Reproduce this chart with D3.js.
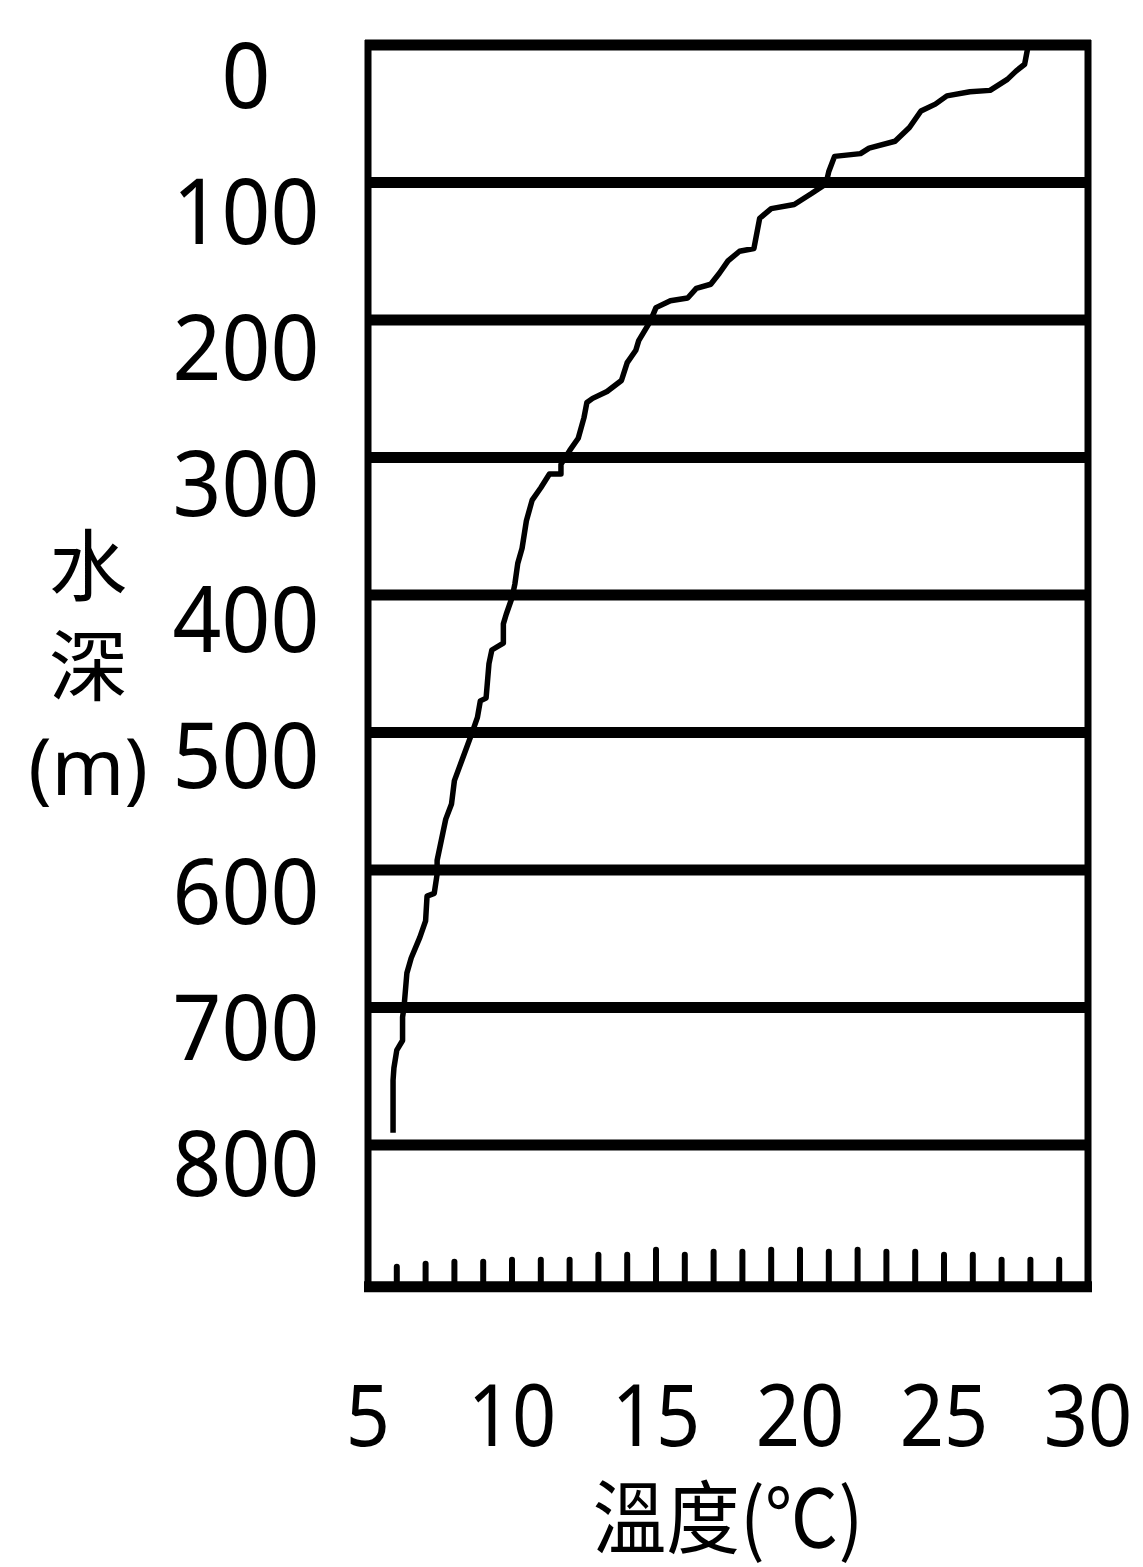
<!DOCTYPE html>
<html>
<head>
<meta charset="utf-8">
<script src="https://cdn.jsdelivr.net/npm/d3@7"></script>
<style>
    body { margin: 0; background: #fff; }
    text { font-family: "Noto Sans", "Noto Sans CJK TC", sans-serif; fill: #000; }
</style>
</head>
<body>
<div id="chart"></div>
<script>
// temperature profile (depth in m, temperature in C)
var depth = [3, 14, 19, 25, 33, 34, 37, 43, 48, 60, 70, 75, 79, 81, 92, 101, 108, 116, 119, 126,
    148, 150, 157, 166, 174, 177, 184, 186, 191, 201, 215, 222, 231, 244, 252, 257, 260, 271, 286, 295,
    305, 312, 312, 322, 331, 346, 366, 377, 392, 402, 414, 421, 435, 440, 450, 475, 477, 489, 501, 518,
    535, 552, 563, 573, 593, 603, 617, 619, 637, 649, 664, 675, 700, 707, 714, 724, 731, 744, 753, 791];
var temp = [27.9, 27.8, 27.5, 27.2, 26.6, 25.9, 25.1, 24.7, 24.2, 23.8, 23.3, 22.4, 22.1, 21.2, 21.0, 20.9, 20.4, 19.8, 19.0, 18.6,
    18.4, 17.9, 17.5, 17.2, 16.9, 16.4, 16.1, 15.5, 15.0, 14.8, 14.4, 14.3, 14.0, 13.8, 13.3, 12.8, 12.6, 12.5, 12.3, 12.0,
    11.7, 11.7, 11.3, 11.0, 10.7, 10.5, 10.35, 10.2, 10.1, 10.0, 9.8, 9.7, 9.7, 9.3, 9.2, 9.1, 8.9, 8.8, 8.6, 8.3,
    8.0, 7.9, 7.7, 7.6, 7.4, 7.4, 7.3, 7.05, 7.0, 6.8, 6.5, 6.35, 6.25, 6.2, 6.2, 6.2, 6.0, 5.9, 5.87, 5.87];

// tick labels
var depthTicks = [0, 100, 200, 300, 400, 500, 600, 700, 800];
var tempTicks = [5, 10, 15, 20, 25, 30];
var minorTicks = [6, 7, 8, 9, 10, 11, 12, 13, 14, 15, 16, 17, 18, 19, 20, 21, 22, 23, 24, 25, 26, 27, 28, 29];
var yTitle = ["水", "深", "(m)"];
var xTitle = "溫度(℃)";

const width = 1143;
const height = 1567;

var svg = d3.select("#chart")
    .append("svg")
    .attr("width", width)
    .attr("height", height);

var x = d3.scaleLinear().domain([5, 30]).range([368, 1088]);
var y = d3.scaleLinear().domain([0, 800]).range([45, 1145]);
// the depth numbers sit a little off their lines, spaced evenly on their own
var yLab = d3.scaleLinear().domain([0, 800]).range([72, 1160]);
var yBottom = y(903);

// little ticks on the bottom edge, hand drawn so they differ in length
var tickLen = {6: 15, 7: 18, 8: 20, 9: 20, 10: 22, 11: 22, 12: 22, 13: 27, 14: 27, 15: 32, 16: 27, 17: 30,
    18: 30, 19: 32, 20: 32, 21: 30, 22: 32, 23: 30, 24: 30, 25: 27, 26: 27, 27: 22, 28: 22, 29: 22};

svg.selectAll("line.minor")
    .data(minorTicks)
    .enter().append("line")
    .attr("class", "minor")
    .attr("x1", d => x(d)).attr("x2", d => x(d))
    .attr("y1", yBottom)
    .attr("y2", d => yBottom - 5 - tickLen[d])
    .attr("stroke", "#000")
    .attr("stroke-width", 6)
    .attr("stroke-linecap", "round");

// horizontal depth lines
svg.selectAll("line.grid")
    .data(depthTicks)
    .enter().append("line")
    .attr("class", "grid")
    .attr("x1", x(5) - 3).attr("x2", x(30) + 3)
    .attr("y1", d => y(d)).attr("y2", d => y(d))
    .attr("stroke", "#000")
    .attr("stroke-width", 11);

// frame
svg.append("line")
    .attr("x1", x(5) - 4).attr("x2", x(30) + 4)
    .attr("y1", yBottom).attr("y2", yBottom)
    .attr("stroke", "#000").attr("stroke-width", 11);
[5, 30].forEach(function(t) {
    svg.append("line")
        .attr("x1", x(t)).attr("x2", x(t))
        .attr("y1", y(0) - 5).attr("y2", yBottom + 5)
        .attr("stroke", "#000").attr("stroke-width", 7);
});

// depth labels
svg.selectAll("text.ylab")
    .data(depthTicks)
    .enter().append("text")
    .attr("class", "ylab")
    .attr("transform", d => "translate(246," + yLab(d) + ") scale(0.93,1)")
    .attr("text-anchor", "middle")
    .attr("dominant-baseline", "central")
    .attr("font-size", 92)
    .text(d => d);

// temperature labels
svg.selectAll("text.xlab")
    .data(tempTicks)
    .enter().append("text")
    .attr("class", "xlab")
    .attr("transform", d => "translate(" + x(d) + ",1446) scale(0.9,1)")
    .attr("text-anchor", "middle")
    .attr("font-size", 86)
    .text(d => d);

// axis titles
svg.selectAll("text.ytitle")
    .data(yTitle)
    .enter().append("text")
    .attr("class", "ytitle")
    .attr("x", 88)
    .attr("y", (d, i) => 595 + i * 100)
    .attr("text-anchor", "middle")
    .attr("font-size", 78)
    .text(d => d);

svg.append("text")
    .attr("transform", "translate(728,1547) scale(0.92,1)")
    .attr("text-anchor", "middle")
    .attr("font-size", 80)
    .style("font-family", "'Noto Sans CJK TC', sans-serif")
    .text(xTitle);

// the profile line
var line = d3.line()
    .x(d => x(d[1]))
    .y(d => y(d[0]));

svg.append("path")
    .datum(d3.zip(depth, temp))
    .attr("d", line)
    .attr("fill", "none")
    .attr("stroke", "#000")
    .attr("stroke-width", 5.5)
    .attr("stroke-linejoin", "round");
</script>
</body>
</html>
